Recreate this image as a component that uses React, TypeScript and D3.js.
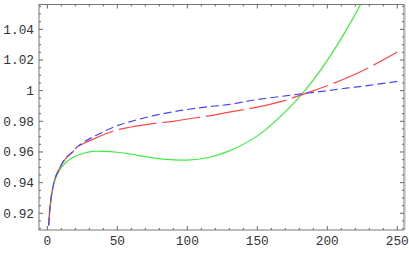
import React from "react";
import * as d3 from "d3";

const xs = [1, 2, 4, 6, 8, 11, 14, 18, 22, 27, 33, 40, 50, 60, 75, 90, 100, 115, 130, 150, 170, 185, 200, 215, 230, 250];
const blueVals = [0.912, 0.925, 0.937, 0.944, 0.948, 0.9532, 0.9568, 0.960, 0.9638, 0.967, 0.970, 0.9732, 0.9772, 0.980, 0.9835, 0.9862, 0.9877, 0.9895, 0.991, 0.9942, 0.9966, 0.9983, 1.0, 1.0018, 1.0035, 1.006];
const redVals = [0.912, 0.925, 0.937, 0.944, 0.948, 0.953, 0.9565, 0.960, 0.9635, 0.966, 0.9685, 0.9712, 0.9745, 0.9763, 0.9785, 0.980, 0.9815, 0.9835, 0.986, 0.9893, 0.9937, 0.9984, 1.0032, 1.0087, 1.0152, 1.0252];
const greenXs = [1, 2, 4, 6, 8, 11, 14, 18, 22, 27, 33, 40, 50, 60, 75, 90, 100, 115, 130, 150, 170, 185, 200, 215, 230];
const greenVals = [0.912, 0.924, 0.937, 0.943, 0.947, 0.951, 0.9538, 0.9563, 0.958, 0.9595, 0.9604, 0.9604, 0.9598, 0.9585, 0.9562, 0.9549, 0.9547, 0.9564, 0.9607, 0.9705, 0.9862, 1.0012, 1.0198, 1.0418, 1.067];

const xTicks = [0, 50, 100, 150, 200, 250];
const yTicks = [0.92, 0.94, 0.96, 0.98, 1, 1.02, 1.04];
const yTickLabels = ["0.92", "0.94", "0.96", "0.98", "1", "1.02", "1.04"];

const W = 409, H = 253;
const L = 39, R = 404, T = 4.5, B = 230;

export default function App() {
  const x = d3.scaleLinear().domain([-5.95, 254.8]).range([L, R]);
  const y = d3.scaleLinear().domain([0.9091, 1.0562]).range([B, T]);

  const line = d3
    .line<[number, number]>()
    .x((d) => x(d[0]))
    .y((d) => y(d[1]))
    .curve(d3.curveCatmullRom.alpha(0.5));

  const blue = line(xs.map((v, i) => [v, blueVals[i]] as [number, number])) || "";
  const red = line(xs.map((v, i) => [v, redVals[i]] as [number, number])) || "";
  const green = line(greenXs.map((v, i) => [v, greenVals[i]] as [number, number])) || "";

  const xMinor = d3.range(0, 255, 10).filter((v) => v % 50 !== 0);
  const yMinor = d3.range(0.91, 1.056, 0.005).filter(
    (v) => !yTicks.some((t) => Math.abs(t - v) < 1e-6)
  );

  const tickColor = "#666";
  const font = "'Liberation Mono', 'DejaVu Sans Mono', monospace";

  return (
    <svg
      width={W}
      height={H}
      style={{ position: "absolute", left: 0, top: 0, background: "#fff" }}
    >
      <defs>
        <clipPath id="plotclip">
          <rect x={L} y={T} width={R - L} height={B - T} />
        </clipPath>
      </defs>

      {/* curves */}
      <g clipPath="url(#plotclip)" fill="none" strokeWidth={1.2}>
        <path d={green} stroke="rgb(60,240,60)" />
        <path d={red} stroke="rgb(255,70,70)" strokeDasharray="38,6" />
        <path d={blue} stroke="rgb(70,70,255)" strokeDasharray="8,4" />
      </g>

      {/* frame */}
      <rect x={L} y={T} width={R - L} height={B - T} fill="none" stroke="#777" strokeWidth={1} />
      <line x1={R + 0.5} x2={R + 0.5} y1={T} y2={B} stroke="#b8b8b8" strokeWidth={2} />

      {/* x ticks bottom & top */}
      {xTicks.map((t) => (
        <g key={"xt" + t} stroke={tickColor}>
          <line x1={x(t)} x2={x(t)} y1={B} y2={B - 4} />
          <line x1={x(t)} x2={x(t)} y1={T} y2={T + 4} />
        </g>
      ))}
      {xMinor.map((t) => (
        <g key={"xm" + t} stroke={tickColor}>
          <line x1={x(t)} x2={x(t)} y1={B} y2={B - 2} />
          <line x1={x(t)} x2={x(t)} y1={T} y2={T + 2} />
        </g>
      ))}
      {/* y ticks left & right */}
      {yTicks.map((t) => (
        <g key={"yt" + t} stroke={tickColor}>
          <line x1={L} x2={L + 4} y1={y(t)} y2={y(t)} />
          <line x1={R} x2={R - 4} y1={y(t)} y2={y(t)} />
        </g>
      ))}
      {yMinor.map((t, i) => (
        <g key={"ym" + i} stroke={tickColor}>
          <line x1={L} x2={L + 2} y1={y(t)} y2={y(t)} />
          <line x1={R} x2={R - 2} y1={y(t)} y2={y(t)} />
        </g>
      ))}

      {/* labels */}
      {xTicks.map((t) => (
        <text
          key={"xl" + t}
          x={x(t)}
          y={245}
          textAnchor="middle"
          fontFamily={font}
          fontSize={12.8}
          fill="#333"
        >
          {t}
        </text>
      ))}
      {yTicks.map((t, i) => (
        <text
          key={"yl" + t}
          x={34}
          y={y(t)}
          dy="0.35em"
          textAnchor="end"
          fontFamily={font}
          fontSize={12.8}
          fill="#333"
        >
          {yTickLabels[i]}
        </text>
      ))}
    </svg>
  );
}
